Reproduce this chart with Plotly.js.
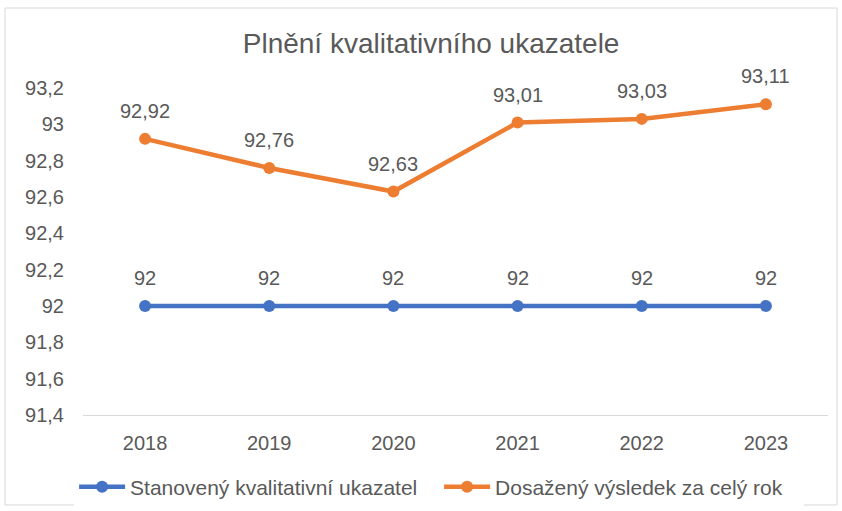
<!DOCTYPE html>
<html><head><meta charset="utf-8">
<script src="https://cdn.plot.ly/plotly-3.0.1.min.js"></script>
<style>body{margin:0;background:#fff}#c{width:842px;height:511px}</style>
</head><body><div id="c"></div>
<script>
const years = [2018, 2019, 2020, 2021, 2022, 2023];
const target = [92, 92, 92, 92, 92, 92];
const achieved = [92.92, 92.76, 92.63, 93.01, 93.03, 93.11];
const tickVals = [91.4, 91.6, 91.8, 92, 92.2, 92.4, 92.6, 92.8, 93, 93.2];
const tickText = ['91,4','91,6','91,8','92','92,2','92,4','92,6','92,8','93','93,2'];
const seriesNames = ['Stanovený kvalitativní ukazatel', 'Dosažený výsledek za celý rok'];

const fmt = v => String(v).replace('.', ',');
const FONT = 'Liberation Sans, Arial, sans-serif';
const TXT = '#595959';

const traces = [
  {x: years, y: target, name: seriesNames[0], type: 'scatter', mode: 'lines+markers',
   line: {color: '#4472C4', width: 4.5}, marker: {color: '#4472C4', size: 12}},
  {x: years, y: achieved, name: seriesNames[1], type: 'scatter', mode: 'lines+markers',
   line: {color: '#ED7D31', width: 4.5}, marker: {color: '#ED7D31', size: 12}}
];

const annotations = [];
[target, achieved].forEach(arr => arr.forEach((v, i) => annotations.push({
  x: years[i], y: v, xref: 'x', yref: 'y', text: fmt(v), showarrow: false,
  yshift: 28, font: {family: FONT, size: 20, color: TXT}
})));

const layout = {
  width: 842, height: 511,
  margin: {l: 83, r: 14, t: 88, b: 96},
  paper_bgcolor: '#fff', plot_bgcolor: '#fff',
  font: {family: FONT, size: 20, color: TXT},
  title: {text: 'Plnění kvalitativního ukazatele', x: 0.512, xanchor: 'center', y: 0.915, yanchor: 'middle',
          font: {family: FONT, size: 28, color: TXT}},
  xaxis: {range: [2017.5, 2023.5], tickvals: years, tickformat: 'd', showgrid: false, zeroline: false,
          showline: true, linecolor: '#d9d9d9', linewidth: 1,
          ticks: '', ticklabelstandoff: 10, tickfont: {family: FONT, size: 20, color: TXT}},
  yaxis: {range: [91.4, 93.2], showgrid: false, zeroline: false, showline: false,
          tickvals: tickVals, ticktext: tickText, ticks: '', ticklabelstandoff: 18,
          tickfont: {family: FONT, size: 20, color: TXT}},
  legend: {orientation: 'h', x: 0.088, xanchor: 'left', xref: 'container', y: 0.047, yanchor: 'middle', yref: 'container',
           font: {family: FONT, size: 21, color: TXT}, traceorder: 'normal', itemwidth: 46, entrywidth: 304},
  showlegend: true,
  annotations: annotations,
  shapes: [{type: 'rect', xref: 'paper', yref: 'paper', x0: -0.1047, x1: 1.0121, y0: -0.2752, y1: 1.2446,
            line: {color: '#d9d9d9', width: 1}, fillcolor: 'rgba(0,0,0,0)', layer: 'below'}]
};

Plotly.newPlot('c', traces, layout, {displayModeBar: false, staticPlot: true});
</script></body></html>
